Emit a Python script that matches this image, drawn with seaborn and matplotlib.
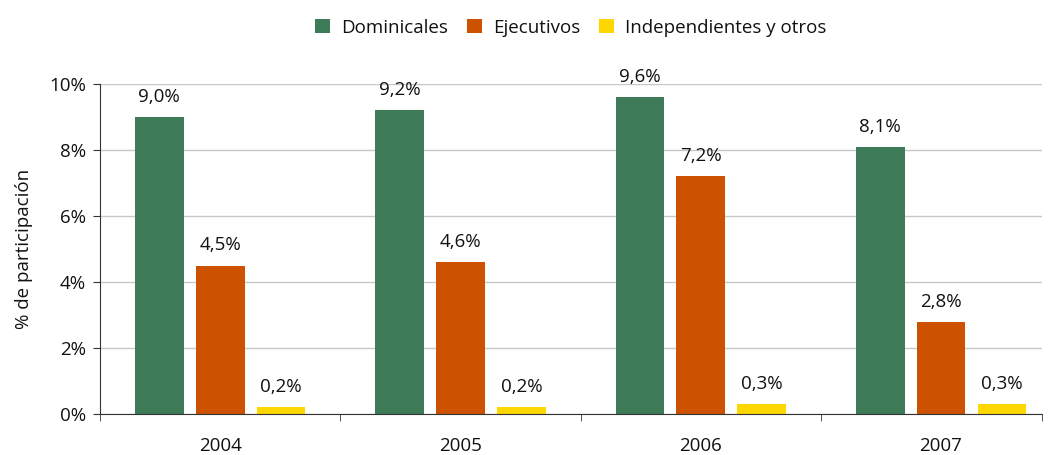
import pandas as pd
import matplotlib.pyplot as plt
import seaborn as sns
from matplotlib.ticker import FuncFormatter, FixedLocator

years = ['2004', '2005', '2006', '2007']
series = ['Dominicales', 'Ejecutivos', 'Independientes y otros']
dominicales = [9.0, 9.2, 9.6, 8.1]
ejecutivos = [4.5, 4.6, 7.2, 2.8]
independientes = [0.2, 0.2, 0.3, 0.3]
colors = ['#3E7B58', '#CC5200', '#FFD700']

df = pd.DataFrame({
    'year': years * 3,
    'tipo': [series[0]] * 4 + [series[1]] * 4 + [series[2]] * 4,
    'valor': dominicales + ejecutivos + independientes,
})

sns.set_style('white')
plt.rcParams['font.family'] = ['Open Sans', 'DejaVu Sans']
plt.rcParams['text.color'] = '#111111'
fs = 13.5

fig = plt.figure(figsize=(10.53, 4.55), dpi=100)
ax = fig.add_axes([0.095, 0.09, 0.8945, 0.7255])

sns.barplot(data=df, x='year', y='valor', hue='tipo', palette=colors,
            width=0.76, gap=0.2, saturation=1, linewidth=0, ax=ax)

for cont in ax.containers:
    labels = [('%.1f%%' % v).replace('.', ',') for v in cont.datavalues]
    ax.bar_label(cont, labels=labels, padding=8, fontsize=fs, color='#111111')

ax.set_ylim(0, 10)
ax.set_xlim(-0.5, 3.42)
ax.yaxis.set_major_formatter(FuncFormatter(lambda v, p: '%d%%' % v))
ax.set_yticks([0, 2, 4, 6, 8, 10])
ax.grid(axis='y', color='#c8c8c8', linewidth=1)
ax.set_axisbelow(True)

for s in ['top', 'right']:
    ax.spines[s].set_visible(False)
ax.spines['left'].set_color('#333333')
ax.spines['bottom'].set_color('#333333')

ax.tick_params(axis='y', left=True, length=5, color='#333333', labelsize=fs,
               labelcolor='#111111', pad=5)
ax.tick_params(axis='x', which='major', bottom=False, labelsize=fs,
               labelcolor='#111111', pad=13)
ax.xaxis.set_minor_locator(FixedLocator([-0.5, 0.5, 1.5, 2.5, 3.42]))
ax.tick_params(axis='x', which='minor', bottom=True, length=5, color='#333333')

ax.set_xlabel('')
ax.set_ylabel('% de participación', fontsize=fs, labelpad=12, color='#111111')

ax.legend(loc='lower center', bbox_to_anchor=(0.5, 1.12), ncol=3, frameon=False,
          fontsize=fs, handlelength=0.8, handleheight=0.8, handletextpad=0.6,
          columnspacing=1.0, borderaxespad=0)

fig.savefig('out.png', dpi=100)
